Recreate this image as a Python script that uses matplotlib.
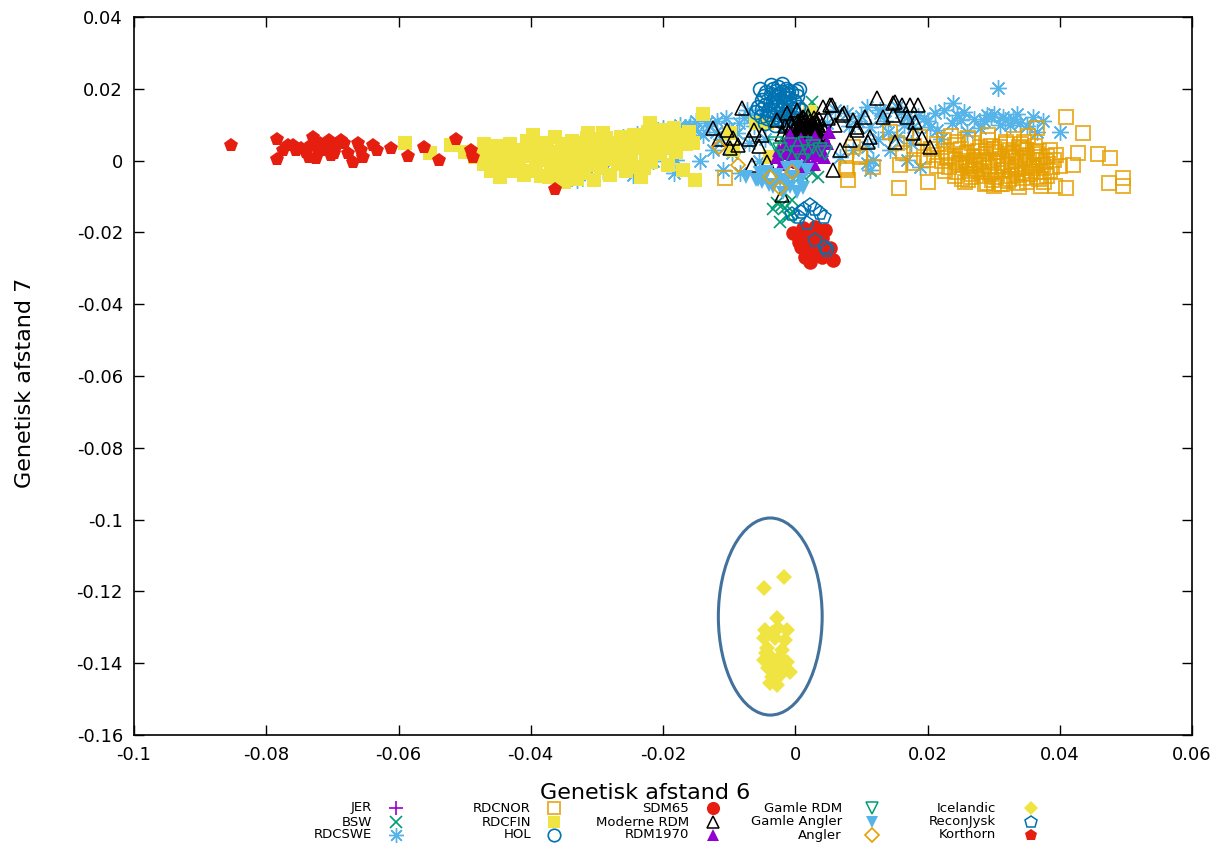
import matplotlib
matplotlib.use("Agg")
import matplotlib.pyplot as plt
from matplotlib.lines import Line2D
from matplotlib.patches import Ellipse

# ---------------- data ----------------
jer_x = [0.0010, 0.0025, -0.0005, 0.0040, 0.0018]
jer_y = [0.0035, 0.0015, 0.0025, 0.0055, 0.0060]

bsw_x = [-0.0027, -0.0015, -0.0011, -0.0023, -0.0003, -0.0008, -0.0033, -0.0020, 0.0026, 0.0020,
         0.0026, -0.0030, 0.0010, 0.0035, -0.0005]
bsw_y = [-0.0119, -0.0132, -0.0157, -0.0171, -0.0143, -0.0150, -0.0135, -0.0125, 0.0163, 0.0145,
         -0.0035, 0.0000, -0.0040, -0.0045, -0.0110]

swe_x = [-0.0330, -0.0314, -0.0290, -0.0260, -0.0246, -0.0240, -0.0220, -0.0215, -0.0200, -0.0190,
         -0.0184, -0.0180, -0.0174, -0.0168, -0.0160, -0.0159, -0.0152, -0.0144, -0.0140, -0.0130,
         -0.0124, -0.0118, -0.0112, -0.0109, -0.0100, -0.0095, -0.0088, -0.0083, -0.0078, -0.0073,
         -0.0070, -0.0062, -0.0055, -0.0050, -0.0045, 0.0048, 0.0060, 0.0068, 0.0079, 0.0088,
         0.0095, 0.0109, 0.0109, 0.0109, 0.0113, 0.0113, 0.0118, 0.0128, 0.0128, 0.0140,
         0.0144, 0.0154, 0.0154, 0.0165, 0.0169, 0.0169, 0.0178, 0.0189, 0.0195, 0.0204,
         0.0211, 0.0220, 0.0237, 0.0239, 0.0245, 0.0250, 0.0260, 0.0280, 0.0285, 0.0290,
         0.0296, 0.0307, 0.0310, 0.0314, 0.0317, 0.0325, 0.0340, 0.0360, 0.0366, 0.0400,
         0.0135, 0.0160, 0.0185, 0.0200, 0.0225, 0.0255, 0.0270, 0.0300, 0.0330, 0.0350,
         0.0375, 0.0125, 0.0175, 0.0215, 0.0100, 0.0082, 0.0335, -0.0120, -0.0135, -0.0105,
         -0.0150, -0.0085, -0.0065]
swe_y = [-0.0054, -0.0040, -0.0030, 0.0066, -0.0040, 0.0075, 0.0077, 0.0000, 0.0090, 0.0060,
         -0.0035, 0.0003, 0.0099, 0.0080, 0.0094, 0.0100, 0.0085, 0.0000, 0.0070, 0.0095,
         0.0030, 0.0110, 0.0060, -0.0026, 0.0090, 0.0020, 0.0077, -0.0035, 0.0120, 0.0140,
         0.0050, 0.0095, 0.0000, 0.0130, 0.0060, 0.0104, 0.0140, 0.0010, 0.0132, 0.0030,
         0.0110, 0.0150, 0.0038, -0.0007, -0.0026, 0.0094, 0.0002, 0.0140, 0.0132, 0.0080,
         0.0030, 0.0150, 0.0066, 0.0100, 0.0121, 0.0002, 0.0094, -0.0018, 0.0120, 0.0094,
         0.0132, 0.0060, 0.0104, 0.0160, 0.0127, 0.0113, 0.0080, 0.0090, 0.0110, 0.0127,
         0.0121, 0.0202, 0.0100, 0.0121, 0.0113, 0.0099, 0.0104, 0.0121, 0.0080, 0.0080,
         0.0110, 0.0135, 0.0125, 0.0110, 0.0140, 0.0135, 0.0115, 0.0130, 0.0115, 0.0095,
         0.0110, 0.0060, 0.0050, 0.0085, 0.0125, 0.0095, 0.0130, 0.0080, 0.0105, 0.0120,
         0.0110, 0.0105, 0.0125]

nor_x = [-0.0106, 0.0080, 0.0076, 0.0079, 0.0088, 0.0098, 0.0098, 0.0118, 0.0144, 0.0154,
         0.0157, 0.0159, 0.0163, 0.0178, 0.0189, 0.0201, 0.0180, 0.0195,
         0.0225, 0.0262, 0.0291, 0.0331, 0.0346,
         0.0215, 0.0241, 0.0268, 0.0296, 0.0318, 0.0341, 0.0362,
         0.0205, 0.0228, 0.0251, 0.0276, 0.0300, 0.0323, 0.0344, 0.0368, 0.0386,
         0.0210, 0.0236, 0.0254, 0.0271, 0.0288, 0.0306, 0.0321, 0.0334, 0.0351, 0.0365, 0.0381, 0.0394,
         0.0200, 0.0222, 0.0241, 0.0258, 0.0273, 0.0285, 0.0299, 0.0312, 0.0327, 0.0340, 0.0353, 0.0366, 0.0379, 0.0391,
         0.0214, 0.0233, 0.0248, 0.0264, 0.0278, 0.0293, 0.0306, 0.0321, 0.0334, 0.0347, 0.0361, 0.0374, 0.0388, 0.0401,
         0.0226, 0.0245, 0.0263, 0.0281, 0.0296, 0.0313, 0.0328, 0.0343, 0.0357, 0.0372, 0.0386,
         0.0241, 0.0266, 0.0285, 0.0304, 0.0326, 0.0344, 0.0366, 0.0381,
         0.0256, 0.0290, 0.0321, 0.0350, 0.0376,
         0.0301, 0.0339, 0.0371,
         0.0409, 0.0435, 0.0428, 0.0458, 0.0476, 0.0474, 0.0496, 0.0496, 0.0410, 0.0393,
         0.0420, 0.0366, 0.0236, 0.0292, 0.0313, 0.0262, 0.0352,
         0.0230, 0.0248, 0.0259, 0.0270, 0.0283, 0.0294, 0.0303, 0.0316, 0.0329, 0.0337,
         0.0348, 0.0358, 0.0370, 0.0252, 0.0267, 0.0279, 0.0297, 0.0309, 0.0324, 0.0338,
         0.0355, 0.0363, 0.0244, 0.0272, 0.0289, 0.0318, 0.0332, 0.0349, 0.0369, 0.0260,
         0.0287, 0.0310, 0.0335]
nor_y = [-0.0049, -0.0054, -0.0021, -0.0026, 0.0038, 0.0010, 0.0016, -0.0018, 0.0080, 0.0049,
         -0.0077, -0.0012, 0.0021, -0.0007, 0.0066, -0.0060, 0.0040, 0.0010,
         0.0058, 0.0063, 0.0056, 0.0061, 0.0052,
         0.0046, 0.0043, 0.0048, 0.0041, 0.0045, 0.0047, 0.0042,
         0.0031, 0.0028, 0.0033, 0.0027, 0.0032, 0.0029, 0.0034, 0.0026, 0.0030,
         0.0016, 0.0013, 0.0018, 0.0012, 0.0017, 0.0014, 0.0019, 0.0011, 0.0015, 0.0018, 0.0013, 0.0016,
         0.0001, -0.0002, 0.0003, -0.0001, 0.0002, -0.0003, 0.0000, 0.0004, -0.0002, 0.0001, -0.0004, 0.0002, -0.0001, 0.0003,
         -0.0014, -0.0017, -0.0012, -0.0016, -0.0013, -0.0018, -0.0015, -0.0011, -0.0017, -0.0014, -0.0016, -0.0012, -0.0018, -0.0015,
         -0.0029, -0.0032, -0.0028, -0.0031, -0.0033, -0.0027, -0.0030, -0.0034, -0.0029, -0.0031, -0.0028,
         -0.0044, -0.0047, -0.0043, -0.0046, -0.0042, -0.0048, -0.0045, -0.0044,
         -0.0059, -0.0062, -0.0058, -0.0061, -0.0060,
         -0.0072, -0.0074, -0.0071,
         0.0121, 0.0077, 0.0021, 0.0018, 0.0007, -0.0062, -0.0048, -0.0070, -0.0076, -0.0070,
         -0.0012, 0.0090, 0.0068, 0.0070, -0.0066, -0.0055, 0.0068,
         0.0008, -0.0008, 0.0022, -0.0023, 0.0009, -0.0037, 0.0024, -0.0007, 0.0023, -0.0039,
         0.0006, -0.0022, 0.0009, -0.0052, -0.0038, 0.0038, -0.0053, 0.0039, -0.0051, 0.0037,
         -0.0036, 0.0024, 0.0051, -0.0006, 0.0027, 0.0052, -0.0024, 0.0030, -0.0052, -0.0010,
         -0.0066, -0.0064, -0.0063]

fin_x = [-0.0590, -0.0552, -0.0520, -0.0500, -0.0485, -0.0476, -0.0470, -0.0465, -0.0460, -0.0456,
         -0.0450, -0.0446, -0.0442, -0.0438, -0.0432, -0.0428, -0.0424, -0.0418, -0.0414, -0.0410,
         -0.0405, -0.0400, -0.0396, -0.0392, -0.0388, -0.0384, -0.0380, -0.0375, -0.0370, -0.0366,
         -0.0363, -0.0360, -0.0356, -0.0352, -0.0350, -0.0346, -0.0342, -0.0338, -0.0334, -0.0330,
         -0.0326, -0.0322, -0.0318, -0.0313, -0.0310, -0.0305, -0.0302, -0.0298, -0.0294, -0.0290,
         -0.0288, -0.0284, -0.0280, -0.0276, -0.0272, -0.0268, -0.0264, -0.0260, -0.0256, -0.0252,
         -0.0248, -0.0244, -0.0240, -0.0236, -0.0234, -0.0230, -0.0226, -0.0222, -0.0220, -0.0218,
         -0.0214, -0.0210, -0.0205, -0.0200, -0.0196, -0.0193, -0.0188, -0.0184, -0.0180, -0.0175,
         -0.0169, -0.0165, -0.0160, -0.0154, -0.0151, -0.0139, -0.0098, -0.0094, -0.0060, -0.0042,
         -0.0038, -0.0012, 0.0023, -0.0400, -0.0330, -0.0470, -0.0446, -0.0456,
         -0.0462, -0.0448, -0.0436, -0.0421, -0.0408, -0.0394, -0.0378, -0.0364, -0.0348, -0.0336,
         -0.0320, -0.0307, -0.0292, -0.0278, -0.0262, -0.0250, -0.0238, -0.0224, -0.0208, -0.0190,
         -0.0177, -0.0372, -0.0340, -0.0315, -0.0286, -0.0258, -0.0228, -0.0198]
fin_y = [0.0050, 0.0020, 0.0043, 0.0024, 0.0010, 0.0016, -0.0010, 0.0030, -0.0030, 0.0005,
         0.0040, -0.0046, -0.0015, 0.0020, 0.0045, -0.0030, 0.0005, -0.0008, 0.0030, -0.0040,
         0.0055, 0.0012, 0.0071, -0.0020, 0.0035, -0.0042, 0.0002, 0.0050, -0.0015, 0.0025,
         0.0066, -0.0046, 0.0010, 0.0040, -0.0060, -0.0025, 0.0020, 0.0055, -0.0005, 0.0030,
         -0.0035, 0.0015, 0.0048, 0.0077, -0.0012, -0.0054, 0.0025, 0.0060, -0.0020, 0.0077,
         0.0035, 0.0005, -0.0040, 0.0050, 0.0018, -0.0010, 0.0065, 0.0030, -0.0030, 0.0045,
         0.0010, 0.0070, -0.0018, 0.0035, -0.0046, 0.0055, 0.0015, 0.0080, 0.0104, -0.0005,
         0.0040, 0.0065, 0.0020, 0.0085, 0.0045, -0.0012, 0.0060, 0.0090, 0.0025, 0.0070,
         -0.0026, 0.0045, 0.0080, 0.0049, -0.0054, 0.0130, 0.0077, 0.0030, 0.0105, 0.0105,
         0.0010, 0.0030, 0.0135, -0.0030, -0.0050, 0.0045, -0.0040, -0.0018,
         0.0018, 0.0008, -0.0005, 0.0012, 0.0020, 0.0040, 0.0028, -0.0010, 0.0045, 0.0012,
         -0.0018, 0.0040, 0.0015, 0.0025, -0.0008, 0.0020, 0.0055, 0.0030, 0.0045, 0.0035,
         0.0052, -0.0045, -0.0040, 0.0062, 0.0062, 0.0058, -0.0020, 0.0065]

hol_x = [-0.0057, -0.0052, -0.0050, -0.0046, -0.0044, -0.0040, -0.0038, -0.0035, -0.0034, -0.0031,
         -0.0030, -0.0028, -0.0026, -0.0024, -0.0022, -0.0020, -0.0018, -0.0016, -0.0014, -0.0012,
         -0.0010, -0.0008, -0.0006, -0.0004, -0.0002, 0.0000, 0.0002, 0.0004, 0.0006, -0.0036,
         -0.0020, -0.0048, -0.0042, -0.0030, -0.0016, 0.0008, -0.0060, -0.0054, -0.0025, -0.0012,
         -0.0045, -0.0033, -0.0027, -0.0021, -0.0015, -0.0009, -0.0003, -0.0039, -0.0025, -0.0011,
         -0.0037, -0.0019, -0.0007, -0.0050, -0.0029, 0.0001, -0.0033, -0.0017]
hol_y = [0.0150, 0.0125, 0.0170, 0.0105, 0.0190, 0.0140, 0.0160, 0.0120, 0.0200, 0.0180,
         0.0150, 0.0130, 0.0205, 0.0170, 0.0110, 0.0190, 0.0145, 0.0160, 0.0200, 0.0125,
         0.0175, 0.0150, 0.0190, 0.0135, 0.0165, 0.0120, 0.0180, 0.0150, 0.0200, 0.0210,
         0.0212, 0.0180, 0.0118, 0.0098, 0.0100, 0.0140, 0.0135, 0.0200, 0.0185, 0.0185,
         0.0155, 0.0170, 0.0160, 0.0140, 0.0175, 0.0160, 0.0145, 0.0130, 0.0120, 0.0195,
         0.0185, 0.0165, 0.0120, 0.0145, 0.0195, 0.0195, 0.0140, 0.0125]

sdm_x = [-0.0003, 0.0012, 0.0030, 0.0045, 0.0008, 0.0018, 0.0041, 0.0057, 0.0023, 0.0033,
         0.0053, 0.0012, 0.0025, 0.0040, 0.0048, 0.0030, 0.0015, 0.0005, 0.0020]
sdm_y = [-0.0202, -0.0188, -0.0185, -0.0193, -0.0240, -0.0257, -0.0268, -0.0277, -0.0282, -0.0230,
         -0.0243, -0.0216, -0.0205, -0.0215, -0.0255, -0.0250, -0.0268, -0.0228, -0.0235]

mod_x = [-0.0010, -0.0005, 0.0000, 0.0000, 0.0004, 0.0006, 0.0008, 0.0010, 0.0012, 0.0014,
         0.0016, 0.0018, 0.0020, 0.0022, 0.0024, 0.0026, 0.0028, 0.0030, 0.0032, 0.0034,
         0.0036, 0.0038, 0.0040, 0.0002, 0.0015, 0.0028, -0.0015, -0.0020, 0.0044, 0.0010,
         0.0020, 0.0036,
         0.0005, 0.0011, 0.0017, 0.0023, 0.0029, 0.0035, 0.0007, 0.0019, 0.0031, 0.0013,
         0.0025, 0.0039, -0.0003, 0.0009, 0.0027, 0.0033,
         -0.0080, -0.0103, -0.0094, -0.0086, -0.0063, -0.0050, -0.0065, -0.0042, -0.0027, -0.0012,
         -0.0008, 0.0003, 0.0012, -0.0020, -0.0115, -0.0098, -0.0070, -0.0055, 0.0042, 0.0056,
         0.0073, 0.0088, 0.0094, 0.0106, 0.0124, 0.0133, 0.0148, 0.0083, 0.0068, 0.0057,
         0.0151, 0.0151, 0.0162, 0.0174, 0.0186, 0.0148, 0.0169, 0.0181, 0.0094, 0.0071,
         0.0053, 0.0113, 0.0110, 0.0178, 0.0192, 0.0204, 0.0060, 0.0050, -0.0125]
mod_y = [0.0080, 0.0100, 0.0070, 0.0090, 0.0110, 0.0080, 0.0095, 0.0065, 0.0120, 0.0085,
         0.0100, 0.0075, 0.0090, 0.0110, 0.0080, 0.0065, 0.0095, 0.0085, 0.0105, 0.0075,
         0.0090, 0.0070, 0.0100, 0.0060, 0.0060, 0.0120, 0.0095, 0.0075, 0.0085, 0.0105,
         0.0125, 0.0115,
         0.0095, 0.0078, 0.0112, 0.0097, 0.0072, 0.0098, 0.0068, 0.0083, 0.0112, 0.0092,
         0.0088, 0.0082, 0.0085, 0.0115, 0.0105, 0.0066,
         0.0146, 0.0085, 0.0063, 0.0043, 0.0085, 0.0071, -0.0012, -0.0004, 0.0113, 0.0132,
         0.0105, 0.0141, 0.0121, -0.0096, 0.0060, 0.0035, 0.0060, 0.0040, 0.0149, 0.0155,
         0.0132, 0.0113, 0.0085, 0.0121, 0.0174, 0.0121, 0.0160, 0.0057, 0.0030, -0.0026,
         0.0052, 0.0163, 0.0155, 0.0155, 0.0155, 0.0127, 0.0121, 0.0108, 0.0094, 0.0127,
         0.0155, 0.0066, 0.0052, 0.0077, 0.0063, 0.0038, 0.0100, 0.0120, 0.0090]

r70_x = [-0.0027, -0.0024, -0.0020, -0.0016, -0.0012, -0.0010, -0.0006, -0.0004, 0.0000, 0.0002,
         0.0006, 0.0008, 0.0010, 0.0014, 0.0016, 0.0020, 0.0022, 0.0026, 0.0028, 0.0030,
         0.0034, 0.0036, 0.0040, 0.0044, 0.0048, 0.0051, 0.0012, -0.0008]
r70_y = [0.0010, 0.0030, -0.0010, 0.0045, 0.0020, 0.0000, 0.0055, 0.0030, 0.0010, 0.0045,
         -0.0005, 0.0060, 0.0025, 0.0040, 0.0005, 0.0055, 0.0020, 0.0035, -0.0010, 0.0065,
         0.0015, 0.0045, 0.0030, 0.0010, 0.0050, 0.0080, -0.0018, 0.0070]

grdm_x = [-0.0023, -0.0008, 0.0027, 0.0038, 0.0003, 0.0015, -0.0015, 0.0045, 0.0010, -0.0030, 0.0020]
grdm_y = [0.0030, 0.0043, 0.0038, 0.0030, 0.0020, 0.0045, 0.0010, 0.0020, 0.0000, 0.0045, 0.0025]

gang_x = [-0.0057, -0.0040, -0.0023, -0.0008, 0.0003, 0.0012, -0.0012, 0.0003, 0.0018, -0.0018,
          -0.0042, -0.0053, -0.0060, -0.0033, -0.0003, -0.0075, -0.0028, 0.0008, -0.0050, -0.0015]
gang_y = [-0.0054, -0.0068, -0.0054, -0.0074, -0.0087, -0.0077, -0.0021, -0.0018, -0.0026, -0.0090,
          -0.0032, -0.0035, -0.0054, -0.0074, -0.0046, -0.0045, -0.0040, -0.0055, -0.0060, -0.0060]

ang_x = [-0.0116, -0.0086, -0.0038, -0.0023, -0.0005]
ang_y = [0.0038, -0.0012, -0.0046, -0.0077, -0.0032]

ice_x = [-0.0048, -0.0017, -0.0027, -0.0045, -0.0035, -0.0026, -0.0012, -0.0048, -0.0030, -0.0015,
         -0.0042, -0.0020, -0.0048, -0.0035, -0.0023, -0.0012, -0.0041, -0.0027, -0.0015, -0.0008,
         -0.0035, -0.0023, -0.0038, -0.0027, -0.0030, -0.0044]
ice_y = [-0.1191, -0.1160, -0.1274, -0.1308, -0.1316, -0.1302, -0.1308, -0.1330, -0.1330, -0.1335,
         -0.1358, -0.1364, -0.1391, -0.1386, -0.1383, -0.1397, -0.1413, -0.1411, -0.1413, -0.1424,
         -0.1438, -0.1433, -0.1455, -0.1460, -0.1447, -0.1372]

rj_x = [0.0008, 0.0023, 0.0038, 0.0018, 0.0005, 0.0030, 0.0045, 0.0048, 0.0013, 0.0030, 0.0043, -0.0005]
rj_y = [-0.0144, -0.0124, -0.0146, -0.0174, -0.0157, -0.0221, -0.0240, -0.0249, -0.0135, -0.0135, -0.0158, -0.0150]

kor_x = [-0.0854, -0.0784, -0.0784, -0.0767, -0.0755, -0.0730, -0.0725, -0.0710, -0.0687, -0.0683,
         -0.0677, -0.0669, -0.0662, -0.0653, -0.0638, -0.0633, -0.0612, -0.0586, -0.0562, -0.0538,
         -0.0513, -0.0490, -0.0488, -0.0364, -0.0748, -0.0740, -0.0733, -0.0721, -0.0718, -0.0702,
         -0.0695, -0.0774, -0.0760, -0.0736, -0.0705, -0.0698, -0.0657]
kor_y = [0.0043, 0.0060, 0.0004, 0.0043, 0.0030, 0.0066, 0.0007, 0.0030, 0.0057, 0.0049,
         0.0021, -0.0004, 0.0049, 0.0010, 0.0043, 0.0030, 0.0035, 0.0013, 0.0038, 0.0002,
         0.0060, 0.0030, 0.0010, -0.0079, 0.0035, 0.0024, 0.0043, 0.0030, 0.0049, 0.0016,
         0.0041, 0.0030, 0.0043, 0.0010, 0.0057, 0.0021, 0.0030]

x_ticks = [-0.1, -0.08, -0.06, -0.04, -0.02, 0, 0.02, 0.04, 0.06]
x_tick_labels = ["-0.1", "-0.08", "-0.06", "-0.04", "-0.02", "0", "0.02", "0.04", "0.06"]
y_ticks = [0.04, 0.02, 0, -0.02, -0.04, -0.06, -0.08, -0.1, -0.12, -0.14, -0.16]
y_tick_labels = ["0.04", "0.02", "0", "-0.02", "-0.04", "-0.06", "-0.08", "-0.1", "-0.12", "-0.14", "-0.16"]

# ---------------- styles ----------------
PURPLE = "#9400D3"; GREEN = "#009E73"; LBLUE = "#56B4E9"; ORANGE = "#E69F00"
YELLOW = "#F0E442"; BLUE = "#0072B2"; RED = "#E51E10"; BLACK = "#000000"

series = [
    ("JER", jer_x, jer_y, dict(marker="+", ms=11, mew=1.2, color=PURPLE, fill=False)),
    ("BSW", bsw_x, bsw_y, dict(marker="x", ms=9, mew=1.2, color=GREEN, fill=False)),
    ("RDCSWE", swe_x, swe_y, dict(marker=(8, 2, 0), ms=12, mew=1.0, color=LBLUE, fill=False)),
    ("RDCNOR", nor_x, nor_y, dict(marker="s", ms=9.5, mew=1.4, color=ORANGE, fill=False, alpha=0.8)),
    ("RDCFIN", fin_x, fin_y, dict(marker="s", ms=10, mew=0, color=YELLOW, fill=True)),
    ("HOL", hol_x, hol_y, dict(marker="o", ms=10, mew=1.2, color=BLUE, fill=False)),
    ("SDM65", sdm_x, sdm_y, dict(marker="o", ms=10.5, mew=0, color=RED, fill=True)),
    ("Moderne RDM", mod_x, mod_y, dict(marker="^", ms=10, mew=1.1, color=BLACK, fill=False)),
    ("RDM1970", r70_x, r70_y, dict(marker="^", ms=10, mew=0, color=PURPLE, fill=True)),
    ("Gamle RDM", grdm_x, grdm_y, dict(marker="v", ms=10, mew=1.1, color=GREEN, fill=False)),
    ("Gamle Angler", gang_x, gang_y, dict(marker="v", ms=10, mew=0, color=LBLUE, fill=True)),
    ("Angler", ang_x, ang_y, dict(marker="D", ms=7.5, mew=1.2, color=ORANGE, fill=False)),
    ("Icelandic", ice_x, ice_y, dict(marker="D", ms=8, mew=0, color=YELLOW, fill=True)),
    ("ReconJysk", rj_x, rj_y, dict(marker="p", ms=10, mew=1.1, color=BLUE, fill=False)),
    ("Korthorn", kor_x, kor_y, dict(marker="p", ms=10, mew=0, color=RED, fill=True)),
]

def style_kwargs(st):
    kw = dict(marker=st["marker"], markersize=st["ms"], markeredgewidth=st["mew"], linestyle="none",
              alpha=st.get("alpha", 1.0))
    if st["fill"]:
        kw.update(markerfacecolor=st["color"], markeredgecolor=st["color"])
    else:
        kw.update(markerfacecolor="none", markeredgecolor=st["color"])
    return kw

fig = plt.figure(figsize=(12.28, 8.43), dpi=100)
ax = fig.add_axes([134/1228, 1-735/843, (1192-134)/1228, (735-17)/843])

for name, xs, ys, st in series:
    ax.plot(xs, ys, **style_kwargs(st))

ax.add_patch(Ellipse((-0.00378, -0.1270), width=0.0157, height=0.0549, fill=False,
                     edgecolor="#41719C", linewidth=2.2))

ax.set_xlim(-0.1, 0.06)
ax.set_ylim(-0.16, 0.04)
ax.set_xticks(x_ticks)
ax.set_xticklabels(x_tick_labels)
ax.set_yticks(y_ticks)
ax.set_yticklabels(y_tick_labels)
ax.tick_params(direction="in", length=7, width=1, top=True, right=True, labelsize=13, pad=8)
for sp in ax.spines.values():
    sp.set_linewidth(1.2)

fig.text(645/1228, 1-793/843, "Genetisk afstand 6", ha="center", va="center", fontsize=16)
fig.text(25/1228, 1-383/843, "Genetisk afstand 7", ha="center", va="center", rotation=90, fontsize=16)

# ---------------- legend (gnuplot-style, label then marker) ----------------
col_text_right = [372, 531, 689, 842, 996]
col_marker_x = [396, 554, 713, 872, 1031]
row_y = [808, 822, 835]
for i, (name, xs, ys, st) in enumerate(series):
    c, r = divmod(i, 3)
    fy = 1 - row_y[r]/843
    fig.text(col_text_right[c]/1228, fy, name, ha="right", va="center", fontsize=9.5)
    kw = style_kwargs(st)
    kw["markersize"] = st["ms"] * 0.9
    fig.add_artist(Line2D([col_marker_x[c]/1228], [fy], transform=fig.transFigure, **kw))

fig.savefig("out.png", dpi=100)
